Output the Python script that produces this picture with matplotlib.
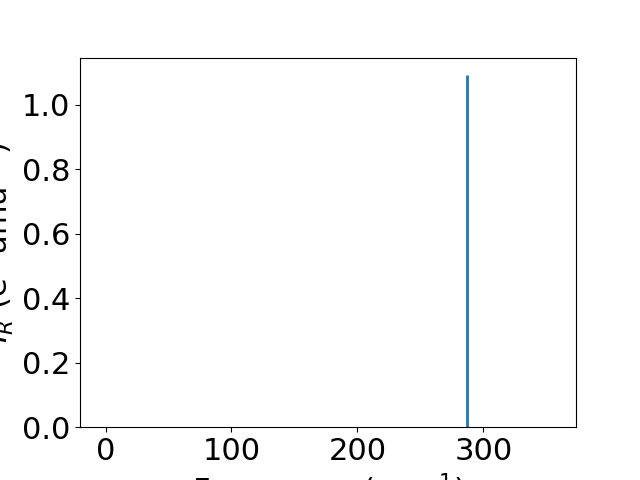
import matplotlib
matplotlib.use("Agg")
import matplotlib.pyplot as plt

frequencies = [287.1]
intensities = [1.093]

plt.rcParams['font.size'] = 22
fig, ax = plt.subplots(figsize=(6.4, 4.8), dpi=100)
ax.vlines(frequencies, 0, intensities, color='#1f77b4', linewidth=2.0)
ax.set_xlim(-20.3, 373.6)
ax.set_ylim(0, 1.147)
ax.set_xticks([0, 100, 200, 300])
ax.set_yticks([0.0, 0.2, 0.4, 0.6, 0.8, 1.0])
ax.set_xlabel("Frequency (cm$^{-1}$)")
ax.set_ylabel("$I_R$ (e$^2$ amu$^{-1}$)")
fig.savefig("out.png", dpi=100)
